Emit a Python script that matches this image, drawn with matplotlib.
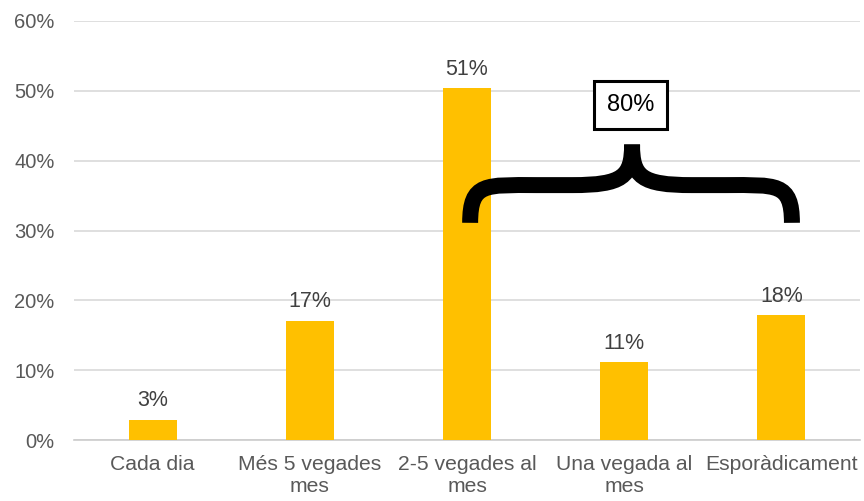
import matplotlib
matplotlib.use('Agg')
import matplotlib.pyplot as plt
from matplotlib.path import Path
from matplotlib.patches import PathPatch

plt.rcParams['font.family'] = ['Liberation Sans', 'DejaVu Sans']

categories = ['Cada dia', 'Més 5 vegades\nmes', '2-5 vegades al\nmes', 'Una vegada al\nmes', 'Esporàdicament']
values = [2.9, 17.1, 50.4, 11.1, 17.9]
value_labels = ['3%', '17%', '51%', '11%', '18%']
yticks = [0, 10, 20, 30, 40, 50, 60]
brace_label = '80%'

fig = plt.figure(figsize=(8.64, 5.01), dpi=100)
ax = fig.add_axes([74 / 864, 1 - 440 / 501, 786 / 864, 419 / 501])

x = list(range(len(categories)))
bars = ax.bar(x, values, width=0.305, color='#ffc000', zorder=3)

for b, lab in zip(bars, value_labels):
    ax.annotate(lab, (b.get_x() + b.get_width() / 2, b.get_height()),
                xytext=(0, 6), textcoords='offset points',
                ha='center', va='bottom', fontsize=15.5, color='#404040')

ax.set_xlim(-0.5, 4.5)
ax.set_ylim(0, 60)
ax.set_yticks(yticks)
ax.set_yticklabels([f'{t}%' for t in yticks])
ax.set_xticks(x)
ax.set_xticklabels(categories)
ax.tick_params(axis='both', length=0, labelcolor='#595959')
ax.tick_params(axis='y', pad=14, labelsize=14.5)
ax.tick_params(axis='x', pad=11, labelsize=15.2)
for lbl in ax.get_xticklabels():
    lbl.set_linespacing(1.2)

ax.grid(axis='y', color='#d9d9d9', linewidth=1.2, zorder=0)
for s in ['top', 'right', 'left']:
    ax.spines[s].set_visible(False)
ax.spines['bottom'].set_color('#cccccc')
ax.spines['bottom'].set_linewidth(1.2)

# curly brace over the last three categories
x0, x1 = 2.02, 4.067
xm = 3.05
y_end, y_mid, y_tip = 31.1, 36.5, 42.3
verts = [
    (x0, y_end), (x0, y_mid + 0.4), (x0 + 0.1, y_mid), (x0 + 0.42, y_mid),
    (xm - 0.38, y_mid), (xm - 0.06, y_mid), (xm, y_mid + 1.2), (xm, y_tip),
    (xm, y_mid + 1.2), (xm + 0.06, y_mid), (xm + 0.38, y_mid),
    (x1 - 0.42, y_mid), (x1 - 0.1, y_mid), (x1, y_mid + 0.4), (x1, y_end),
]
codes = [Path.MOVETO, Path.CURVE4, Path.CURVE4, Path.CURVE4,
         Path.LINETO, Path.CURVE4, Path.CURVE4, Path.CURVE4,
         Path.CURVE4, Path.CURVE4, Path.CURVE4,
         Path.LINETO, Path.CURVE4, Path.CURVE4, Path.CURVE4]
ax.add_patch(PathPatch(Path(verts, codes), fill=False, edgecolor='black',
                       linewidth=11.5, capstyle='butt', joinstyle='miter', zorder=4))

ax.text(xm - 0.01, 48.0, brace_label, ha='center', va='center', fontsize=17, color='black',
        bbox=dict(boxstyle='square,pad=0.55', facecolor='white', edgecolor='black', linewidth=2.2),
        zorder=5)

fig.savefig('out.png', dpi=100)
